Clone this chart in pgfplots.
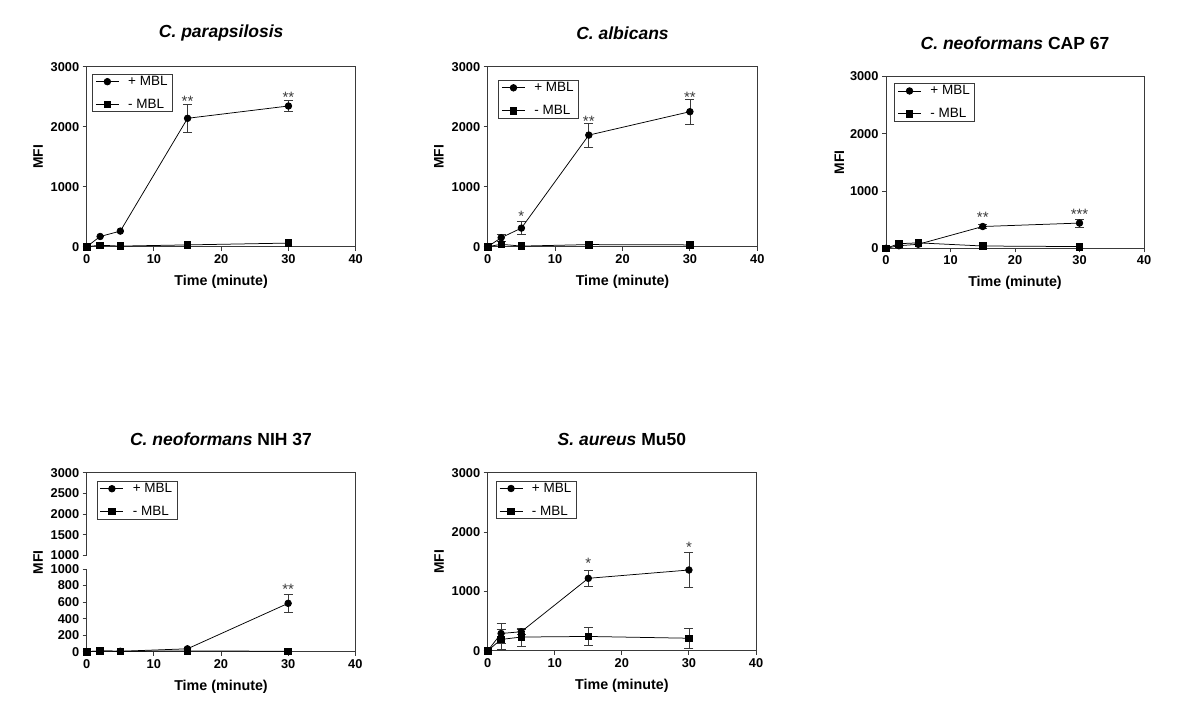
\documentclass[border=0pt]{standalone}
\usepackage{fontspec}
\setmainfont{Liberation Sans}
\usepackage{pgfplots}
\pgfplotsset{compat=1.18}
\definecolor{axgray}{HTML}{3A3A3A}

\tikzset{sigstar/.style={anchor=north, inner sep=0pt, font=\fontsize{15}{17}\selectfont, text=axgray}}

\pgfplotsset{
 panel/.style={
  scale only axis, anchor=south west, clip=false,
  xmin=0, xmax=40, xtick={0,10,20,30,40},
  ymin=0, ymax=3000, ytick={0,1000,2000,3000},
  scaled x ticks=false, scaled y ticks=false,
  axis line style={axgray, line width=0.9pt},
  tick style={axgray, line width=0.9pt},
  tick align=outside, major tick length=4pt,
  xtick pos=bottom, ytick pos=left,
  /pgf/number format/assume math mode=true,
  /pgf/number format/1000 sep={},
  ticklabel style={font=\fontsize{12.8}{14}\selectfont\bfseries},
  xlabel={Time (minute)}, ylabel={MFI},
  xlabel style={at={(axis description cs:0.5,0)}, anchor=center, yshift=-35pt, font=\fontsize{14.3}{16}\selectfont\bfseries},
  ylabel style={at={(axis description cs:-0.181,0.5)}, anchor=center, font=\fontsize{13.8}{16}\selectfont\bfseries},
  title style={at={(axis description cs:0.5,1)}, anchor=center, yshift=27.5pt, font=\fontsize{17.5}{20}\selectfont\bfseries},
  legend cell align=left,
  legend style={draw=axgray, line width=0.8pt, font=\fontsize{13.5}{15}\selectfont, inner xsep=3pt, inner ysep=0pt, row sep=8pt, anchor=north west},
  legend image code/.code={\draw[mark repeat=2,mark phase=2,#1] plot coordinates {(0pt,0pt) (11.5pt,0pt) (23pt,0pt)}; \path (30pt,0pt);},
 },
 plusmbl/.style={black, line width=0.75pt, mark=*, mark size=3.3pt, mark options={solid, fill=black}},
 minusmbl/.style={black, line width=0.75pt, mark=square*, mark size=3.3pt, mark options={solid, fill=black}},
 errplot/.style={forget plot, only marks, mark=none,
   error bars/.cd, y dir=both, y explicit,
   error bar style={draw=axgray, line width=0.7pt},
   error mark options={rotate=90, mark size=4.5pt, line width=0.7pt, draw=axgray}},
}

\begin{document}
\begin{tikzpicture}
\path (0,0) rectangle (1200pt,723pt);

% Panel 1
\begin{axis}[panel, at={(86.7pt,476.3pt)}, width=269pt, height=180pt,
  title={\itshape C. parapsilosis},
  legend style={at={(axis description cs:0.02,0.96)}}]
\addplot[errplot] coordinates {(15,2140) +- (0,230) (30,2345) +- (0,95)};
\addplot[plusmbl] coordinates {(0,0) (2,170) (5,260) (15,2140) (30,2345)};
\addplot[minusmbl] coordinates {(0,0) (2,25) (5,10) (15,30) (30,60)};
\legend{+ MBL, - MBL}
\node[sigstar] at (axis cs:15,2510) {**};
\node[sigstar] at (axis cs:30,2578) {**};
\end{axis}

% Panel 2
\begin{axis}[panel, at={(487.7pt,476.3pt)}, width=269.6pt, height=180pt,
  title={\itshape C. albicans},
  legend style={at={(axis description cs:0.039,0.926)}}]
\addplot[errplot] coordinates {(2,150) +- (0,60) (5,310) +- (0,110) (15,1860) +- (0,200) (30,2250) +- (0,210)};
\addplot[plusmbl] coordinates {(0,0) (2,150) (5,310) (15,1860) (30,2250)};
\addplot[minusmbl] coordinates {(0,0) (2,40) (5,10) (15,35) (30,30)};
\legend{+ MBL, - MBL}
\node[sigstar] at (axis cs:5,595) {*};
\node[sigstar] at (axis cs:15,2178) {**};
\node[sigstar] at (axis cs:30,2573) {**};
\end{axis}

% Panel 3
\begin{axis}[panel, at={(886pt,474.7pt)}, width=258pt, height=172pt,
  title={{\itshape C. neoformans} CAP 67},
  legend style={at={(axis description cs:0.032,0.96)}}]
\addplot[errplot] coordinates {(15,380) +- (0,30) (30,440) +- (0,70)};
\addplot[plusmbl] coordinates {(0,0) (2,45) (5,70) (15,380) (30,440)};
\addplot[minusmbl] coordinates {(0,0) (2,80) (5,95) (15,40) (30,30)};
\legend{+ MBL, - MBL}
\node[sigstar] at (axis cs:15,628) {**};
\node[sigstar] at (axis cs:30,690) {***};
\end{axis}

% Panel 4 (broken y axis: 0-1000 lower, 1000-3000 upper)
\begin{axis}[panel, at={(86.7pt,71.3pt)}, width=268.6pt, height=179pt,
  ymax=2165,
  ytick={0,200,400,600,800,1000,1165,1415,1665,1915,2165},
  yticklabels={0,200,400,600,800,1000,1000,1500,2000,2500,3000},
  axis line style={draw=none},
  title={{\itshape C. neoformans} NIH 37},
  legend style={at={(axis description cs:0.037,0.954)}}]
\draw[axgray, line width=0.9pt] (axis cs:0,0) -- (axis cs:40,0) -- (axis cs:40,2165) -- (axis cs:0,2165) -- (axis cs:0,1165);
\draw[axgray, line width=0.9pt] (axis cs:0,0) -- (axis cs:0,1000);
\addplot[errplot] coordinates {(30,585) +- (0,110)};
\addplot[plusmbl] coordinates {(0,0) (2,10) (5,5) (15,35) (30,585)};
\addplot[minusmbl] coordinates {(0,0) (2,10) (5,5) (15,10) (30,5)};
\legend{+ MBL, - MBL}
\node[sigstar] at (axis cs:30,818) {**};
\end{axis}

% Panel 5
\begin{axis}[panel, at={(487.7pt,72.3pt)}, width=268.3pt, height=178pt,
  title={{\itshape S. aureus} Mu50},
  legend style={at={(axis description cs:0.03,0.955)}}]
\addplot[errplot] coordinates {(2,290) +- (0,170) (5,320) +- (0,40) (15,1220) +- (0,140) (30,1360) +- (0,290)};
\addplot[errplot] coordinates {(2,190) +- (0,165) (5,230) +- (0,150) (15,240) +- (0,150) (30,210) +- (0,170)};
\addplot[plusmbl] coordinates {(0,0) (2,290) (5,320) (15,1220) (30,1360)};
\addplot[minusmbl] coordinates {(0,0) (2,190) (5,230) (15,240) (30,210)};
\legend{+ MBL, - MBL}
\node[sigstar] at (axis cs:15,1557) {*};
\node[sigstar] at (axis cs:30,1827) {*};
\end{axis}
\end{tikzpicture}
\end{document}
